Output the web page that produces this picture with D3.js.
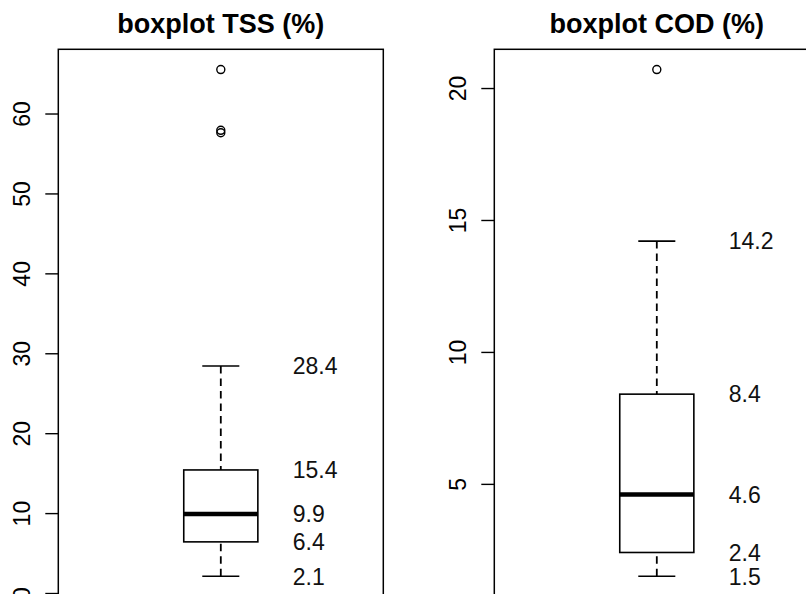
<!DOCTYPE html>
<html>
<head>
<meta charset="utf-8">
<script src="https://cdn.jsdelivr.net/npm/d3@7"></script>
<style>
  html, body { margin: 0; padding: 0; background: #fff; overflow: hidden; }
  svg { display: block; font-family: "Liberation Sans", Arial, sans-serif; }
</style>
</head>
<body>
<div id="chart"></div>
<script>
// five-number summaries: [lower whisker, Q1, median, Q3, upper whisker]
const titles = ['boxplot TSS (%)', 'boxplot COD (%)'];
const tssStats = [2.1, 6.4, 9.9, 15.4, 28.4];
const tssOutliers = [57.6, 57.9, 65.5];
const tssTicks = [0, 10, 20, 30, 40, 50, 60];
const codStats = [1.5, 2.4, 4.6, 8.4, 14.2];
const codOutliers = [20.7];
const codTicks = [5, 10, 15, 20];

const width = 806;
const height = 594;

const svg = d3.select('#chart').append('svg')
	.attr('width', width)
	.attr('height', height);

const panels = [
	{ title: titles[0], stats: tssStats, outliers: tssOutliers, ticks: tssTicks, left: 58.3 },
	{ title: titles[1], stats: codStats, outliers: codOutliers, ticks: codTicks, left: 494.3 },
];

const plotW = 325;
const plotTop = 49.3;
const plotBottom = 596.5;

panels.forEach((p) => {
	const values = p.stats.concat(p.outliers);
	const lo = d3.min(values);
	const hi = d3.max(values);
	const pad = (hi - lo) * 0.04;

	const y = d3.scaleLinear()
		.domain([lo - pad, hi + pad])
		.range([plotBottom, plotTop]);

	const x = d3.scaleLinear()
		.domain([0.5, 1.5])
		.range([p.left, p.left + plotW]);

	const g = svg.append('g');

	// title
	g.append('text')
		.attr('x', x(1))
		.attr('y', 33)
		.attr('text-anchor', 'middle')
		.style('font-size', '27px')
		.style('font-weight', 'bold')
		.text(p.title);

	// y axis
	const axis = g.append('g')
		.attr('transform', `translate(${p.left},0)`)
		.call(d3.axisLeft(y).tickValues(p.ticks).tickSize(13).tickFormat(d3.format('d')));
	axis.select('.domain').remove();
	axis.selectAll('.tick line').attr('stroke', '#000').attr('stroke-width', 1.4);
	axis.selectAll('.tick text')
		.attr('x', null)
		.attr('dy', null)
		.attr('transform', 'translate(-28,0) rotate(-90)')
		.attr('text-anchor', 'middle')
		.attr('fill', '#000')
		.style('font-size', '23px')
		.style('font-family', '"Liberation Sans", Arial, sans-serif');

	// plot frame
	g.append('rect')
		.attr('x', p.left)
		.attr('y', plotTop)
		.attr('width', plotW)
		.attr('height', plotBottom - plotTop)
		.attr('fill', 'none')
		.attr('stroke', '#000')
		.attr('stroke-width', 1.5);

	const s = p.stats;
	const boxHalf = 0.114;
	const capHalf = 0.057;

	// whiskers, drawn from the whisker end towards the box
	[[s[0], s[1]], [s[4], s[3]]].forEach(([a, b]) => {
		g.append('line')
			.attr('x1', x(1)).attr('x2', x(1))
			.attr('y1', y(a)).attr('y2', y(b))
			.attr('stroke', '#000')
			.attr('stroke-width', 1.8)
			.attr('stroke-dasharray', '7.5,5');
	});

	// staples
	[s[0], s[4]].forEach((v) => {
		g.append('line')
			.attr('x1', x(1 - capHalf)).attr('x2', x(1 + capHalf))
			.attr('y1', y(v)).attr('y2', y(v))
			.attr('stroke', '#000')
			.attr('stroke-width', 1.6);
	});

	// box
	g.append('rect')
		.attr('x', x(1 - boxHalf))
		.attr('y', y(s[3]))
		.attr('width', x(1 + boxHalf) - x(1 - boxHalf))
		.attr('height', y(s[1]) - y(s[3]))
		.attr('fill', '#fff')
		.attr('stroke', '#000')
		.attr('stroke-width', 1.6);

	// median
	g.append('line')
		.attr('x1', x(1 - boxHalf)).attr('x2', x(1 + boxHalf))
		.attr('y1', y(s[2])).attr('y2', y(s[2]))
		.attr('stroke', '#000')
		.attr('stroke-width', 4.5);

	// outliers
	g.selectAll('circle.out')
		.data(p.outliers)
		.enter()
		.append('circle')
		.attr('class', 'out')
		.attr('cx', x(1))
		.attr('cy', (d) => y(d))
		.attr('r', 4)
		.attr('fill', 'none')
		.attr('stroke', '#000')
		.attr('stroke-width', 1.4);

	// value labels
	g.selectAll('text.val')
		.data(s)
		.enter()
		.append('text')
		.attr('class', 'val')
		.attr('x', x(1.2215))
		.attr('y', (d) => y(d))
		.attr('dy', '0.36em')
		.style('font-size', '23px')
		.attr('fill', '#111')
		.text((d) => d.toFixed(1));
});
</script>
</body>
</html>
